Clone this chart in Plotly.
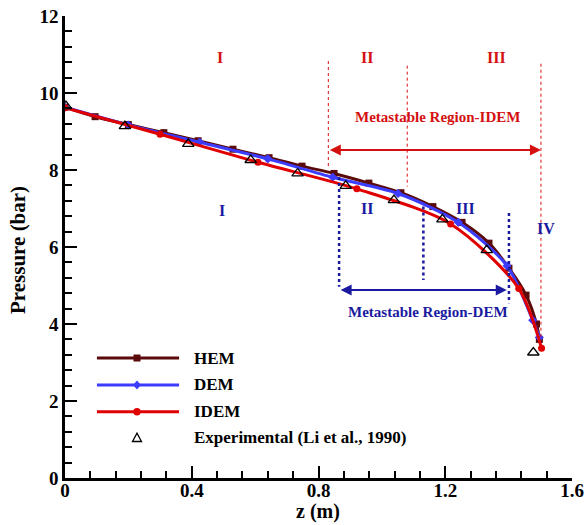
import plotly.graph_objects as go

# ---- data ----
hem_z = [0.0, 0.095, 0.20, 0.312, 0.42, 0.530, 0.644, 0.748, 0.849, 0.959, 1.060, 1.161, 1.253, 1.338, 1.401, 1.455, 1.488, 1.497]
hem_p = [9.63, 9.385, 9.18, 8.97, 8.76, 8.54, 8.32, 8.10, 7.91, 7.66, 7.41, 7.05, 6.64, 6.10, 5.45, 4.75, 4.00, 3.60]

dem_z = [0.0, 0.20, 0.425, 0.640, 0.845, 1.051, 1.241, 1.395, 1.476, 1.497]
dem_p = [9.63, 9.17, 8.72, 8.29, 7.81, 7.39, 6.64, 5.51, 4.10, 3.65]

idem_z = [0.0, 0.30, 0.609, 0.921, 1.217, 1.432, 1.504]
idem_p = [9.62, 8.93, 8.20, 7.51, 6.60, 4.92, 3.37]

exp_z = [0.003, 0.189, 0.389, 0.586, 0.734, 0.886, 1.038, 1.191, 1.331, 1.478]
exp_p = [9.66, 9.14, 8.68, 8.26, 7.91, 7.59, 7.22, 6.72, 5.92, 3.26]

# region boundaries
idem_bounds = [(0.831, 10.83, 8.05), (1.080, 10.71, 7.57), (1.502, 10.76, 3.67)]
dem_bounds = [(0.865, 7.82, 4.97), (1.131, 7.05, 5.14), (1.401, 6.88, 4.54)]
idem_labels = [("I", 0.489, 10.91), ("II", 0.953, 10.91), ("III", 1.363, 10.91)]
dem_labels = [("I", 0.495, 6.96), ("II", 0.953, 6.99), ("III", 1.265, 6.99), ("IV", 1.518, 6.47)]
idem_arrow = (0.831, 1.502, 8.52)
dem_arrow = (0.865, 1.394, 4.88)

C_HEM = "#5a0a0a"
C_DEM = "#3c3cff"
C_IDEM = "#e00000"
C_RED_T = "#d41010"
C_BLUE_T = "#1a1aa0"
FONT = "Liberation Serif"

fig = go.Figure()
fig.add_trace(go.Scatter(x=hem_z, y=hem_p, mode="lines+markers", name="HEM",
                         line=dict(color=C_HEM, width=3, shape="spline", smoothing=0.8),
                         marker=dict(symbol="square", size=7, color=C_HEM)))
fig.add_trace(go.Scatter(x=dem_z, y=dem_p, mode="lines+markers", name="DEM",
                         line=dict(color=C_DEM, width=3, shape="spline", smoothing=0.8),
                         marker=dict(symbol="diamond", size=7, color=C_DEM)))
fig.add_trace(go.Scatter(x=idem_z, y=idem_p, mode="lines+markers", name="IDEM",
                         line=dict(color=C_IDEM, width=3, shape="spline", smoothing=0.8),
                         marker=dict(symbol="circle", size=7, color=C_IDEM)))
fig.add_trace(go.Scatter(x=exp_z, y=exp_p, mode="markers", name="Experimental (Li et al., 1990)",
                         marker=dict(symbol="triangle-up-open", size=10, color="black",
                                     line=dict(width=1.3, color="black"))))

shapes = []
for z, y0, y1 in idem_bounds:
    shapes.append(dict(type="line", xref="x", yref="y", x0=z, x1=z, y0=y0, y1=y1,
                       line=dict(color=C_RED_T, width=1, dash="dot")))
for z, y0, y1 in dem_bounds:
    shapes.append(dict(type="line", xref="x", yref="y", x0=z, x1=z, y0=y0, y1=y1,
                       line=dict(color=C_BLUE_T, width=2.5, dash="dot")))

annotations = []
for t, z, p in idem_labels:
    annotations.append(dict(x=z, y=p, xref="x", yref="y", text="<b>%s</b>" % t, showarrow=False,
                            font=dict(family=FONT, size=16, color=C_RED_T)))
for t, z, p in dem_labels:
    annotations.append(dict(x=z, y=p, xref="x", yref="y", text="<b>%s</b>" % t, showarrow=False,
                            font=dict(family=FONT, size=16, color=C_BLUE_T)))
annotations.append(dict(x=1.177, y=9.38, xref="x", yref="y", text="<b>Metastable Region-IDEM</b>",
                        showarrow=False, font=dict(family=FONT, size=15, color=C_RED_T)))
annotations.append(dict(x=1.146, y=4.30, xref="x", yref="y", text="<b>Metastable Region-DEM</b>",
                        showarrow=False, font=dict(family=FONT, size=15, color=C_BLUE_T)))
for (a, b, p), col in [(idem_arrow, C_RED_T), (dem_arrow, C_BLUE_T)]:
    annotations.append(dict(x=b, y=p, ax=a, ay=p, xref="x", yref="y", axref="x", ayref="y",
                            text="", showarrow=True, arrowhead=2, startarrowhead=2,
                            arrowside="end+start", arrowsize=1.1, arrowwidth=2, arrowcolor=col,
                            standoff=0, startstandoff=0))

# ---- manual legend (paper coords) ----
leg_names = ["HEM", "DEM", "IDEM", "Experimental (Li et al., 1990)"]
leg_cols = [C_HEM, C_DEM, C_IDEM, "black"]
leg_y = [0.2597, 0.2013, 0.1435, 0.0872]
lx0, lx1, lxm, ltx = 0.063, 0.225, 0.142, 0.2505
for i, (nm, col, yy) in enumerate(zip(leg_names, leg_cols, leg_y)):
    if i < 3:
        shapes.append(dict(type="line", xref="paper", yref="paper", x0=lx0, x1=lx1, y0=yy, y1=yy,
                           line=dict(color=col, width=3)))
    common = dict(xref="paper", yref="paper", xsizemode="pixel", ysizemode="pixel",
                  xanchor=lxm, yanchor=yy)
    if i == 0:
        shapes.append(dict(type="rect", x0=-3.5, x1=3.5, y0=-3.5, y1=3.5,
                           fillcolor=col, line=dict(width=0), **common))
    elif i == 1:
        shapes.append(dict(type="path", path="M 0 4.5 L 4 0 L 0 -4.5 L -4 0 Z",
                           fillcolor=col, line=dict(width=0), **common))
    elif i == 2:
        shapes.append(dict(type="circle", x0=-3.7, x1=3.7, y0=-3.7, y1=3.7,
                           fillcolor=col, line=dict(width=0), **common))
    else:
        shapes.append(dict(type="path", path="M -4.5 -3.8 L 4.5 -3.8 L 0 4.6 Z",
                           fillcolor="white", line=dict(width=1.3, color="black"), **common))
    annotations.append(dict(x=ltx, y=yy, xref="paper", yref="paper", xanchor="left", yanchor="middle",
                            text="<b>%s</b>" % nm, showarrow=False,
                            font=dict(family=FONT, size=17, color="black")))

# axis titles as paper annotations for exact placement
annotations.append(dict(x=(318 - 65) / 507, y=(478 - 511) / 462, xref="paper", yref="paper",
                        xanchor="center", yanchor="middle",
                        text="<b>z (m)</b>", showarrow=False,
                        font=dict(family=FONT, size=20, color="black")))
annotations.append(dict(x=(18 - 65) / 507, y=(478 - 250) / 462, xref="paper", yref="paper",
                        xanchor="center", yanchor="middle",
                        text="<b>Pressure (bar)</b>", showarrow=False, textangle=-90,
                        font=dict(family=FONT, size=21, color="black")))

axis_common = dict(showgrid=False, zeroline=False, showline=True, linecolor="black", linewidth=2.5,
                   ticks="inside", ticklen=12, tickwidth=2, tickcolor="black", automargin=False,
                   tickfont=dict(family=FONT, size=19, color="black"))

fig.update_layout(
    width=586, height=525,
    margin=dict(l=65, r=14, t=16, b=47),
    paper_bgcolor="white", plot_bgcolor="white",
    showlegend=False,
    shapes=shapes, annotations=annotations,
    xaxis=dict(range=[0, 1.6], dtick=0.4, tick0=0, ticklabelstandoff=-7,
               minor=dict(dtick=0.08, ticks="inside", ticklen=7, tickwidth=1.5, tickcolor="black"),
               **axis_common),
    yaxis=dict(range=[0, 12], dtick=2, tick0=0,
               minor=dict(dtick=0.4, ticks="inside", ticklen=7, tickwidth=1.5, tickcolor="black"),
               **axis_common),
)
fig.update_xaxes(tickprefix="<b>", ticksuffix="</b>")
fig.update_yaxes(tickprefix="<b>", ticksuffix="</b>")

fig.write_html("out.html", config={"displayModeBar": False},
               post_script="document.body.style.margin='0';document.body.style.overflow='hidden';")
